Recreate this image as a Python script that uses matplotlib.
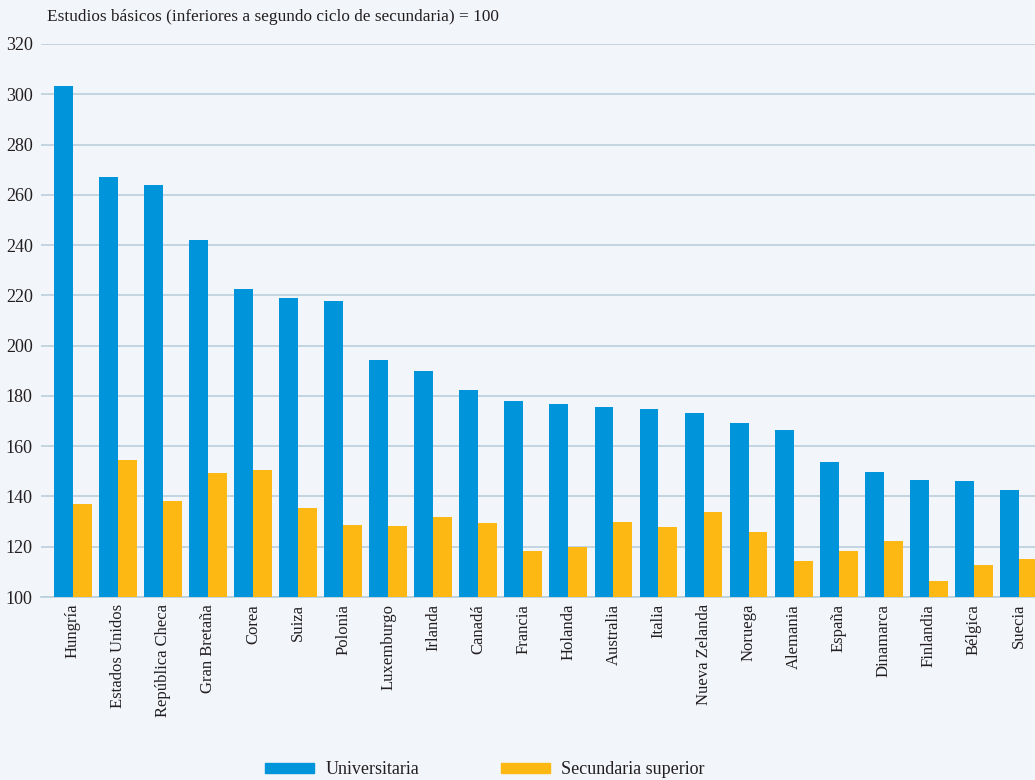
import matplotlib
matplotlib.use("Agg")
import matplotlib.pyplot as plt
import numpy as np
from matplotlib.patches import Patch

countries = ["Hungría", "Estados Unidos", "República Checa", "Gran Bretaña", "Corea",
             "Suiza", "Polonia", "Luxemburgo", "Irlanda", "Canadá", "Francia",
             "Holanda", "Australia", "Italia", "Nueva Zelanda", "Noruega",
             "Alemania", "España", "Dinamarca", "Finlandia", "Bélgica", "Suecia"]
universitaria = [303.3, 267.1, 263.9, 242.0, 222.5, 219.0, 217.8, 194.3, 189.9, 182.4,
                 178.0, 176.8, 175.6, 174.8, 173.2, 169.2, 166.4, 153.7, 149.7, 146.5,
                 146.1, 142.6]
secundaria = [137.0, 154.5, 138.2, 149.3, 150.5, 135.4, 128.6, 128.2, 131.8, 129.4,
              118.3, 119.9, 129.8, 127.8, 133.8, 125.9, 114.3, 118.3, 122.3, 106.4,
              112.7, 115.1]
yticks = [100, 120, 140, 160, 180, 200, 220, 240, 260, 280, 300, 320]

BG = "#F2F5F9"
BLUE = "#0095DA"
ORANGE = "#FDB813"
GRID = "#B9CFDD"
TEXT = "#231F20"

plt.rcParams["font.family"] = ["Liberation Serif", "DejaVu Serif"]

fig = plt.figure(figsize=(10.35, 7.80), dpi=100, facecolor=BG)
ax = fig.add_axes([41 / 1035, (780 - 597) / 780, 1 - 41 / 1035, (597 - 44) / 780])
ax.set_facecolor(BG)

x = np.arange(len(countries))
w = 0.42
ax.bar(x - w / 2, np.array(universitaria) - 100, w, bottom=100, color=BLUE, zorder=3)
ax.bar(x + w / 2, np.array(secundaria) - 100, w, bottom=100, color=ORANGE, zorder=3)

ax.set_xlim(-0.71, len(countries) - 1 + 0.36)
ax.set_ylim(100, 320)
ax.set_yticks(yticks)
ax.set_yticklabels([str(t) for t in yticks], fontsize=13, color=TEXT)
ax.yaxis.grid(True, color=GRID, linewidth=1.2, zorder=0)
ax.tick_params(axis="y", length=0, pad=6)

ax.set_xticks(x)
ax.set_xticklabels(countries, rotation=90, fontsize=12, color=TEXT, va="top", ha="center")
ax.tick_params(axis="x", length=0, pad=5)

for s in ["top", "right", "left"]:
    ax.spines[s].set_visible(False)
ax.spines["bottom"].set_color(GRID)
ax.spines["bottom"].set_linewidth(1.2)

fig.text(47 / 1035, 1 - 17 / 780, "Estudios básicos (inferiores a segundo ciclo de secundaria) = 100",
         fontsize=12.4, color=TEXT, va="center", ha="left")

handles = [Patch(color=BLUE, label="Universitaria"), Patch(color=ORANGE, label="Secundaria superior")]
fig.legend(handles=handles, loc="center", bbox_to_anchor=(485 / 1035, 1 - 770 / 780), ncol=2,
           frameon=False, fontsize=13, handlelength=2.7, handleheight=0.45,
           columnspacing=4.5, handletextpad=0.65, labelcolor=TEXT)

fig.savefig("out.png", dpi=100, facecolor=BG)
